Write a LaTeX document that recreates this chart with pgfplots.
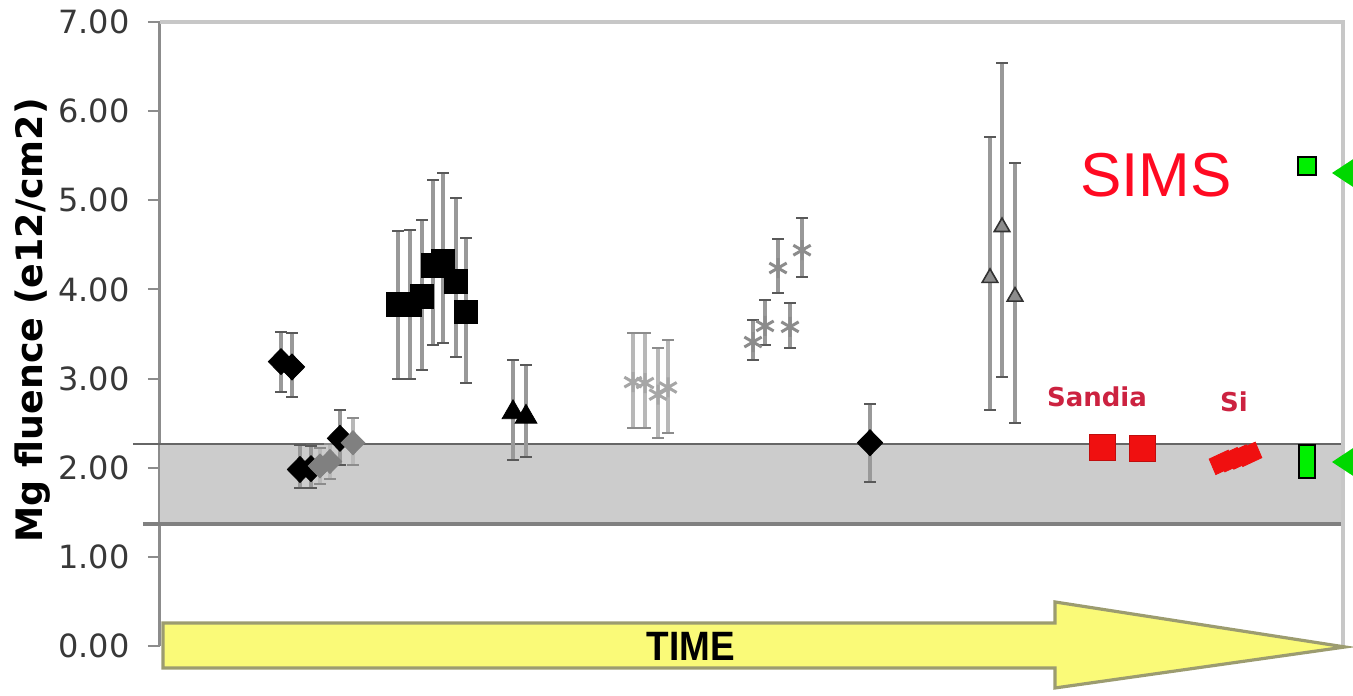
\documentclass[border=0pt]{standalone}
\usepackage{pgfplots}
\pgfplotsset{compat=1.18}
\usepackage{pgfplotstable}
\usepackage{fontspec}
\setmainfont{DejaVu Sans}
\newfontfamily\arial{Liberation Sans}
\definecolor{bandgray}{HTML}{CCCCCC}
\definecolor{ebar}{HTML}{999999}
\definecolor{ebarlight}{HTML}{B8B8B8}
\definecolor{simsred}{HTML}{FF0A22}
\definecolor{labred}{HTML}{CC2240}
\definecolor{ptred}{HTML}{F01010}
\definecolor{grn}{HTML}{00F000}
\definecolor{arrowfill}{HTML}{FAFA78}
\definecolor{arrowdraw}{HTML}{9C9C70}

% x = horizontal position, y = value, ep/em = error plus/minus
\pgfplotstableread{
x y ep em
281 3.19 0.33 0.34
292 3.13 0.38 0.34
300 1.98 0.28 0.21
311 1.99 0.25 0.22
340 2.33 0.32 0.30
}\gA
\pgfplotstableread{
x y ep em
320 2.02 0.20 0.20
330 2.07 0.20 0.20
353 2.28 0.28 0.25
}\gB
\pgfplotstableread{
x y ep em
398 3.83 0.82 0.84
410 3.83 0.84 0.84
422 3.92 0.86 0.82
433 4.27 0.96 0.89
443 4.32 0.99 0.92
456 4.09 0.94 0.85
466 3.75 0.83 0.80
}\gC
\pgfplotstableread{
x y ep em
513 2.62 0.59 0.53
526 2.57 0.58 0.45
}\gD
\pgfplotstableread{
x y ep em
633 2.96 0.55 0.51
645 2.95 0.56 0.50
658 2.82 0.52 0.49
668 2.90 0.53 0.51
}\gE
\pgfplotstableread{
x y ep em
753 3.41 0.25 0.20
765 3.59 0.29 0.21
778 4.24 0.33 0.28
790 3.58 0.27 0.24
802 4.44 0.36 0.30
}\gF
\pgfplotstableread{
x y ep em
870 2.28 0.44 0.44
}\gG
\pgfplotstableread{
x y ep em
990 4.13 1.58 1.48
1002 4.70 1.84 1.68
1015 3.92 1.50 1.42
}\gH
\pgfplotstableread{
x y
1102 2.23
1142 2.22
}\gSandia
\pgfplotstableread{
x y
1222 2.06
1231 2.09
1240 2.12
1249 2.15
}\gSi

\pgfplotsset{
  eb/.style={only marks, error bars/y dir=both, error bars/y explicit,
             error bars/error bar style={ebar, line width=1.7pt},
             error bars/error mark options={rotate=90, black!65, line width=1pt, mark size=2.8pt}},
  ebl/.style={only marks, error bars/y dir=both, error bars/y explicit,
             error bars/error bar style={ebarlight, line width=1.7pt},
             error bars/error mark options={rotate=90, black!45, line width=1pt, mark size=2.8pt}},
}

\begin{document}
\begin{tikzpicture}
\begin{axis}[
  x=0.5pt, y=44.57pt,
  xmin=160, xmax=1343, ymin=0, ymax=7,
  axis x line=none,
  axis y line*=left,
  y axis line style={color=black!45, line width=1.5pt, -},
  ytick={0,1,...,7},
  tick align=outside,
  major tick length=6pt,
  ytick style={color=black!45, line width=1pt},
  yticklabel style={/pgf/number format/.cd, fixed, fixed zerofill, precision=2,
     assume math mode=true, /tikz/.cd,
     font=\fontsize{16}{18}\selectfont, text=black!78, inner sep=0pt, xshift=-9pt},
  ylabel={Mg fluence (e12/cm2)},
  every axis y label/.style={at={(rel axis cs:-0.108,0.522)}, rotate=90, anchor=center,
     font=\bfseries\fontsize{18.2}{20}\selectfont},
  clip=false,
]
% shaded band and frame
\fill[bandgray] (axis cs:160,1.37) rectangle (axis cs:1343,2.27);
\draw[black!60, line width=1pt] (axis cs:133,2.27) -- (axis cs:1343,2.27);
\draw[black!50, line width=2pt] (axis cs:143,1.37) -- (axis cs:1343,1.37);
\draw[black!22, line width=1.6pt] (axis cs:160,7) -- (axis cs:1343,7) -- (axis cs:1343,0);

% time arrow
\draw[fill=arrowfill, draw=arrowdraw, line width=1.6pt]
  (axis cs:163,0.258) -- (axis cs:1055,0.258) -- (axis cs:1055,0.494) --
  (axis cs:1345,-0.011) -- (axis cs:1055,-0.471) -- (axis cs:1055,-0.247) --
  (axis cs:163,-0.247) -- cycle;
\node[font=\arial\bfseries\fontsize{20.5}{22}\selectfont, xscale=0.9] at (axis cs:691,0.0) {TIME};

\addplot[eb, mark=diamond*, mark size=6.5pt, mark options={black, xscale=1.3}]
  table[x=x, y=y, y error plus=ep, y error minus=em] {\gA};
\addplot[ebl, mark=diamond*, mark size=6pt, mark options={fill=black!50, draw=black!50, xscale=1.3}]
  table[x=x, y=y, y error plus=ep, y error minus=em] {\gB};
\addplot[eb, mark=square*, mark size=5.9pt, mark options={black}]
  table[x=x, y=y, y error plus=ep, y error minus=em] {\gC};
\addplot[eb, mark=triangle*, mark size=6.3pt, mark options={black}]
  table[x=x, y=y, y error plus=ep, y error minus=em] {\gD};
\addplot[ebl, mark=asterisk, mark size=5pt, mark options={black!35, line width=1.5pt}]
  table[x=x, y=y, y error plus=ep, y error minus=em] {\gE};
\addplot[eb, mark=asterisk, mark size=5pt, mark options={black!45, line width=1.5pt}]
  table[x=x, y=y, y error plus=ep, y error minus=em] {\gF};
\addplot[eb, mark=diamond*, mark size=6.5pt, mark options={black, xscale=1.3}]
  table[x=x, y=y, y error plus=ep, y error minus=em] {\gG};
\addplot[eb, mark=triangle*, mark size=4.5pt, mark options={fill=black!45, draw=black!80, line width=0.8pt}]
  table[x=x, y=y, y error plus=ep, y error minus=em] {\gH};

\addplot[only marks, mark=square*, mark size=6.5pt, mark options={ptred, draw=ptred!80!black, line width=0.5pt}]
  table[x=x, y=y] {\gSandia};
\addplot[only marks, mark=diamond*, mark size=6.5pt, mark options={ptred, xscale=1.4, rotate=-20}]
  table[x=x, y=y] {\gSi};

% SIMS reference markers
\addplot[only marks, mark=square*, mark size=4.5pt, mark options={fill=grn, draw=black, line width=1pt}]
  coordinates {(1307,5.39)};
\addplot[no marks, fill=grn, draw=black, line width=1pt]
  coordinates {(1299,1.885) (1315,1.885) (1315,2.255) (1299,2.255)} -- cycle;
\addplot[no marks, fill=grn!90!black, draw=none]
  coordinates {(1332,5.306) (1380,5.66) (1380,4.95)} -- cycle;
\addplot[no marks, fill=grn!90!black, draw=none]
  coordinates {(1332,2.064) (1380,2.42) (1380,1.71)} -- cycle;

% labels
\node[font=\arial\fontsize{31}{33}\selectfont, text=simsred] at (axis cs:1156,5.284) {SIMS};
\node[font=\bfseries\fontsize{13}{15}\selectfont, text=labred] at (axis cs:1097,2.80) {Sandia};
\node[font=\bfseries\fontsize{13}{15}\selectfont, text=labred] at (axis cs:1234,2.737) {Si};

\coordinate (BL) at (axis cs:0,-0.55);
\coordinate (TR) at (axis cs:1353,7.247);
\end{axis}
\pgfresetboundingbox
\path[use as bounding box] (BL) rectangle (TR);
\end{tikzpicture}
\end{document}
